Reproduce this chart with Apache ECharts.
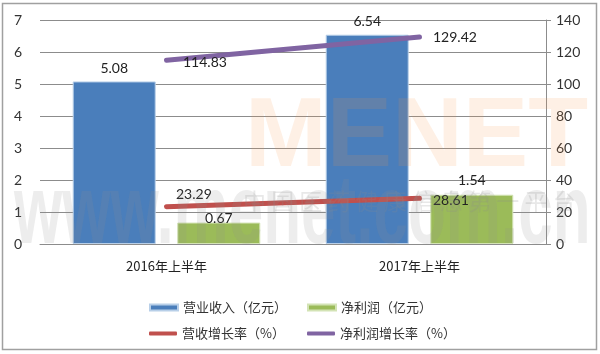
<!DOCTYPE html>
<html>
<head>
<meta charset="utf-8">
<script src="https://cdn.jsdelivr.net/npm/echarts@6/dist/echarts.min.js"></script>
<style>
  html, body { margin: 0; padding: 0; background: #fff; }
  #chart { width: 600px; height: 354px; }
</style>
</head>
<body>
<div id="chart"></div>
<script>
const categories = ['2016年上半年', '2017年上半年'];
const revenue = [5.08, 6.54];        // 营业收入（亿元）
const netProfit = [0.67, 1.54];      // 净利润（亿元）
const revenueGrowth = [23.29, 28.61];   // 营收增长率（%）
const profitGrowth = [114.83, 129.42];  // 净利润增长率（%）
const leftTicks = [0, 7, 1];
const rightTicks = [0, 140, 20];

const numFont = 'Lato, "Noto Sans CJK SC", sans-serif';
const cjkFont = '"Noto Sans CJK SC", sans-serif';

// per-point label tweaks
const netProfitLabel = [
  { distance: -3 },
  { distance: 7 }
];
const revGrowthLabel = [
  { position: 'right', distance: 9, offset: [0, -12] },
  { position: 'right', distance: 13, offset: [0, 2] }
];
const profGrowthLabel = [
  { position: 'right', distance: 16, offset: [0, 2] },
  { position: 'right', distance: 13, offset: [0, 1] }
];

function withLabels(vals, labs){
  return vals.map((v, i) => ({ value: v, label: labs[i] }));
}

const chart = echarts.init(document.getElementById('chart'));

const legendText = { fontSize: 13, color: '#333', fontFamily: cjkFont };
function oneLegend(name, left, top, icon, h){
  return { data: [name], left: left, top: top, icon: icon, itemWidth: 28, itemHeight: h, itemGap: 0, textStyle: legendText, selectedMode: false };
}

const option = {
  animation: false,
  backgroundColor: '#fff',
  grid: { left: 40, right: 54, top: 20, bottom: 110 },
  legend: [
    oneLegend('营业收入（亿元）', 144, 296, 'rect', 6),
    oneLegend('净利润（亿元）', 302, 296, 'rect', 6),
    oneLegend('营收增长率（%）', 144, 322, 'roundRect', 4),
    oneLegend('净利润增长率（%）', 302, 322, 'roundRect', 4)
  ],
  graphic: [
    { type: 'rect', shape: { x: 2.5, y: 3.5, width: 594, height: 346 }, style: { fill: 'none', stroke: '#a0a0a0', lineWidth: 1.5 }, silent: true, z: 100 },
    { type: 'text', left: 245, top: 90, z: 50, silent: true,
      style: { text: 'MENET', font: 'bold 98px "Liberation Sans", Arial, sans-serif', fill: 'rgba(247,150,70,0.14)' } },
    { type: 'text', left: 243, top: 190, z: 50, silent: true,
      style: { text: '中 国 医 药 健 康 信 息 第 一 平 台', font: '23px "Noto Sans CJK SC", sans-serif', fill: 'rgba(140,140,140,0.2)' } },
    { type: 'text', x: 14, y: 166, scaleY: 1.6, z: 50, silent: true,
      style: { text: 'www.menet.com.cn', font: 'bold 62px "Liberation Sans", Arial, sans-serif', fill: 'rgba(140,140,140,0.16)' } }
  ],
  xAxis: {
    type: 'category',
    data: categories,
    axisLine: { lineStyle: { color: '#8c8c8c', width: 1 } },
    axisTick: { show: false },
    axisLabel: { margin: 16, fontSize: 13, color: '#222', fontFamily: cjkFont }
  },
  yAxis: [
    {
      type: 'value', min: leftTicks[0], max: leftTicks[1], interval: leftTicks[2],
      axisLine: { show: false }, axisTick: { show: false },
      axisLabel: { fontSize: 14, color: '#333', fontFamily: numFont, margin: 18 },
      splitLine: { lineStyle: { color: '#8c8c8c', width: 1 } }
    },
    {
      type: 'value', min: rightTicks[0], max: rightTicks[1], interval: rightTicks[2],
      axisLine: { show: true, lineStyle: { color: '#8c8c8c', width: 1 } },
      axisTick: { show: true, length: 5, lineStyle: { color: '#8c8c8c' } },
      axisLabel: { fontSize: 14, color: '#333', fontFamily: numFont, margin: 10 },
      splitLine: { show: false }
    }
  ],
  series: [
    {
      name: '营业收入（亿元）', type: 'bar', data: revenue, barWidth: 83, barGap: '26%',
      itemStyle: { color: '#4a7ebb', borderColor: '#b8cfe8', borderWidth: 1 },
      label: { show: true, position: 'top', distance: 6, fontSize: 14, color: '#222', fontFamily: numFont }
    },
    {
      name: '净利润（亿元）', type: 'bar', data: withLabels(netProfit, netProfitLabel), barWidth: 83,
      itemStyle: { color: '#9bbb59', borderColor: '#d3e3b5', borderWidth: 1 },
      label: { show: true, position: 'top', fontSize: 14, color: '#222', fontFamily: numFont }
    },
    {
      name: '营收增长率（%）', type: 'line', yAxisIndex: 1, data: withLabels(revenueGrowth, revGrowthLabel),
      showSymbol: true, symbol: 'circle', symbolSize: 1, z: 5,
      lineStyle: { color: '#c0504d', width: 5, cap: 'round' }, itemStyle: { color: '#c0504d' },
      label: { show: true, fontSize: 14, color: '#222', fontFamily: numFont }
    },
    {
      name: '净利润增长率（%）', type: 'line', yAxisIndex: 1, data: withLabels(profitGrowth, profGrowthLabel),
      showSymbol: true, symbol: 'circle', symbolSize: 1, z: 5,
      lineStyle: { color: '#8064a2', width: 5, cap: 'round' }, itemStyle: { color: '#8064a2' },
      label: { show: true, fontSize: 14, color: '#222', fontFamily: numFont }
    }
  ]
};
chart.setOption(option);
</script>
</body>
</html>
